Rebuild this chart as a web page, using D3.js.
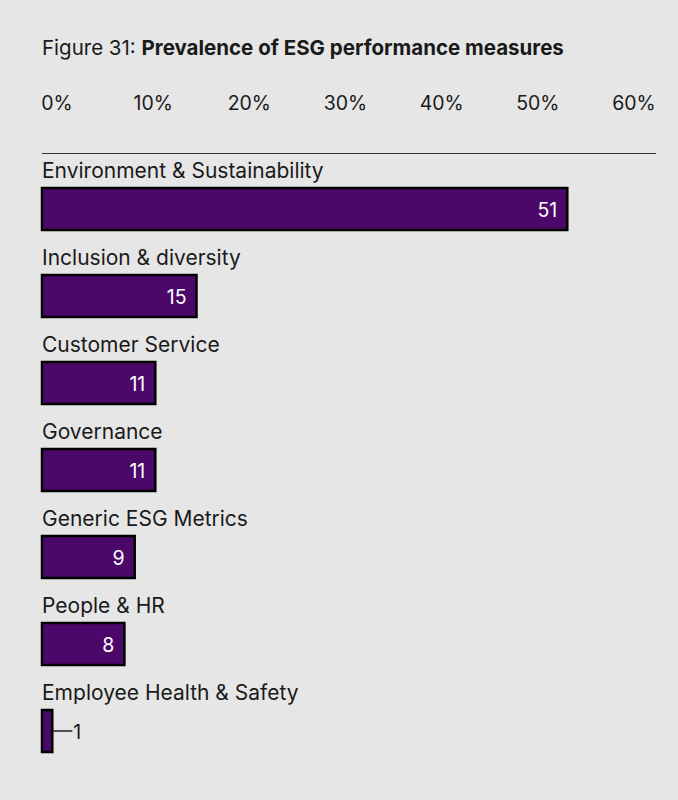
<!DOCTYPE html>
<html>
<head>
<meta charset="utf-8">
<script src="https://cdn.jsdelivr.net/npm/d3@7"></script>
<style>
  html, body { margin: 0; padding: 0; background: #e6e6e6; }
  svg { display: block; font-family: Inter, "Liberation Sans", sans-serif; }
</style>
</head>
<body>
<svg id="chart"></svg>
<script>
// data
var categories = ["Environment & Sustainability", "Inclusion & diversity", "Customer Service",
  "Governance", "Generic ESG Metrics", "People & HR", "Employee Health & Safety"];
var values = [51, 15, 11, 11, 9, 8, 1];
var tickValues = [0, 10, 20, 30, 40, 50, 60];

var width = 678, height = 800;
var svg = d3.select("#chart").attr("width", width).attr("height", height);

svg.append("rect").attr("width", width).attr("height", height).attr("fill", "#e6e6e6");

// title
var title = svg.append("text")
    .attr("x", 42).attr("y", 55)
    .attr("fill", "#1a1a1a")
    .style("font-size", "20.5px");
title.append("tspan").text("Figure 31: ");
title.append("tspan").attr("font-weight", "bold").text("Prevalence of ESG performance measures");

var x = d3.scaleLinear().domain([0, 60]).range([42, 660]);
// tick labels are spread a bit differently than bars (first left, last right)
var xLab = d3.scaleLinear().domain([0, 60]).range([57, 634]);

var y = d3.scaleBand().domain(categories).range([187 - 43, 187 - 43 + 87 * 7]).paddingInner(0).paddingOuter(0);

svg.selectAll(".tick-label")
    .data(tickValues)
  .enter().append("text")
    .attr("class", "tick-label")
    .attr("x", function(d) { return xLab(d); })
    .attr("y", 110)
    .attr("text-anchor", "middle")
    .attr("fill", "#1a1a1a")
    .style("font-size", "19.5px")
    .text(function(d) { return d + "%"; });

svg.append("line")
    .attr("x1", x(0)).attr("x2", 656)
    .attr("y1", 153.5).attr("y2", 153.5)
    .attr("stroke", "#333").attr("stroke-width", 1.2);

var row = svg.selectAll(".row")
    .data(categories)
  .enter().append("g")
    .attr("class", "row")
    .attr("transform", function(d) { return "translate(0," + y(d) + ")"; });

row.append("text")
    .attr("x", 42)
    .attr("y", 34)
    .attr("fill", "#1a1a1a")
    .style("font-size", "21px")
    .text(function(d) { return d; });

row.append("rect")
    .attr("x", x(0))
    .attr("y", 44)
    .attr("width", function(d, i) { return x(values[i]) - x(0); })
    .attr("height", 42)
    .attr("fill", "#4b0869")
    .attr("stroke", "#000")
    .attr("stroke-width", 2.5);

row.each(function(d, i) {
  var g = d3.select(this);
  var v = values[i];
  if (x(v) - x(0) > 30) {
    g.append("text")
        .attr("x", x(v) - 10)
        .attr("y", 73)
        .attr("text-anchor", "end")
        .attr("fill", "#fff")
        .style("font-size", "19.5px")
        .text(v);
  } else {
    g.append("line")
        .attr("x1", x(v) - 2).attr("x2", x(v) + 20)
        .attr("y1", 65).attr("y2", 65)
        .attr("stroke", "#000").attr("stroke-width", 1.3);
    g.append("text")
        .attr("x", x(v) + 21)
        .attr("y", 73)
        .attr("fill", "#1a1a1a")
        .style("font-size", "19.5px")
        .text(v);
  }
});
</script>
</body>
</html>
